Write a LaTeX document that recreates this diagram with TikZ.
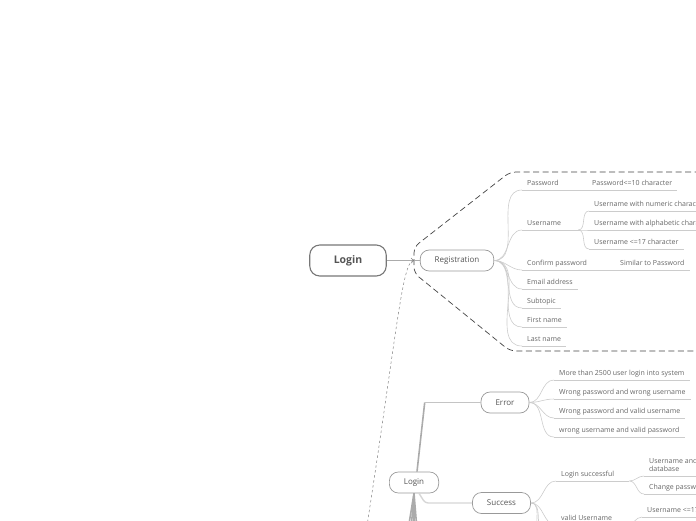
\documentclass[tikz,border=0pt]{standalone}
\usepackage{fontspec}
\setmainfont{Open Sans}
\usetikzlibrary{arrows.meta,calc}
\definecolor{topicgray}{HTML}{777777}
\definecolor{textgray}{HTML}{555555}
\definecolor{leafgray}{HTML}{666666}
\definecolor{linegray}{HTML}{CCCCCC}
\definecolor{trunkgray}{HTML}{ABABAB}
\definecolor{boundgray}{HTML}{444444}
\tikzset{
  rootbox/.style={draw=topicgray,line width=1.1pt,fill=white,rounded corners=10pt,minimum height=31pt,inner xsep=24pt,font=\fontsize{10.5}{12}\selectfont\bfseries,text=textgray},
  topicbox/.style={draw=topicgray!75,line width=0.7pt,fill=white,rounded corners=9pt,minimum height=21pt,inner xsep=14.5pt,font=\fontsize{8}{10}\selectfont,text=textgray},
  leaf/.style={anchor=south west,inner xsep=5pt,inner ysep=2.5pt,text height=5pt,text depth=1.5pt,font=\fontsize{7}{8}\selectfont,text=leafgray},
  branch/.style={draw=linegray,line width=0.6pt},
  twig/.style={branch,out=0,in=180},
  trunk/.style={draw=trunkgray,line width=1.6pt},
  boundary/.style={draw=boundgray,line width=0.7pt,dash pattern=on 6pt off 3.5pt,rounded corners=6pt},
  relation/.style={draw=gray,line width=0.5pt,dash pattern=on 2.5pt off 2.5pt,-{Straight Barb[length=2.5pt,width=5pt]}}
}
\begin{document}
\begin{tikzpicture}[x=1pt,y=-1pt]
  \useasboundingbox (0,0) rectangle (696,520);
  \clip (0,0) rectangle (696,520);
  \draw[boundary] (710,172) -- (510,172) -- (414,247) -- (414,273) -- (510,351) -- (710,351);
  \node[rootbox] (root) at (348,260.5) {Login};
  \node[topicbox] (reg) at (457,260.5) {Registration};
  \draw[trunkgray,line width=1.3pt] (root) -- (reg);
  \coordinate (relfrom) at (366,532);
  \coordinate (relto) at (414,260.5);
  \draw[relation] (relfrom) .. controls (396,340) and (402,261) .. (relto);
  % registration fields
  \node[leaf] (pw) at (522,190) {Password};
  \node[leaf] (pwa) at (587,190) {Password<=10 character};
  \node[leaf] (un) at (522,230) {Username};
  \node[leaf] (una) at (589,211) {Username with numeric character};
  \node[leaf] (unb) at (589,230) {Username with alphabetic character};
  \node[leaf] (unc) at (589,249) {Username <=17 character};
  \node[leaf] (cp) at (522,270) {Confirm password};
  \node[leaf] (cpa) at (615,270) {Similar to Password};
  \node[leaf] (em) at (522,289) {Email address};
  \node[leaf] (st) at (522,308) {Subtopic};
  \node[leaf] (fn) at (522,327) {First name};
  \node[leaf] (ln) at (522,346) {Last name};
  \foreach \n in {pw,un,cp,em,st,fn,ln}
    \draw[twig] (reg.east) to (\n.south west);
  \draw[branch] (pw.south east) -- (pwa.south west);
  \draw[branch] (cp.south east) -- (cpa.south west);
  \draw[branch] (un.south east) -- ++(12,0) coordinate (unj);
  \foreach \n in {una,unb,unc}
    \draw[twig] (unj) to (\n.south west);
  \foreach \n in {pw,pwa,un,una,unb,unc,cp,cpa,em,st,fn,ln}
    \draw[branch] (\n.south west) -- (\n.south east);
  % login outcomes
  \node[topicbox] (lg) at (414,482.5) {Login};
  \node[topicbox] (er) at (505,402.5) {Error};
  \node[topicbox] (sc) at (501.5,503) {Success};
  \coordinate (erk) at ($(er.west)+(-56,0)$);
  \draw[trunk] ([xshift=3pt]lg.north) -- (erk);
  \draw[branch,line width=1pt,draw=trunkgray!70] (erk) -- (er.west);
  \draw[line width=1.4pt,draw=linegray!80,rounded corners=3pt] ([xshift=5pt]lg.south) -- ([xshift=-47pt]sc.west) -- (sc.west);
  \coordinate (lgd1) at (408,530);
  \coordinate (lgd2) at (411,530);
  \coordinate (lgd3) at (414,530);
  \coordinate (lgd4) at (417,530);
  \foreach \n in {1,...,4}
    \draw[trunk] (lg.south) -- (lgd\n);
  \node[leaf] (era) at (554,380) {More than 2500 user login into system};
  \node[leaf] (erb) at (554,399) {Wrong password and wrong username};
  \node[leaf] (erc) at (554,418) {Wrong password and valid username};
  \node[leaf] (erd) at (554,437) {wrong username and valid password};
  \foreach \n in {era,erb,erc,erd}
    \draw[twig] (er.east) to (\n.south west);
  \node[leaf] (ls) at (556,481) {Login successful};
  \node[leaf,align=left,text height=,text depth=,inner ysep=4pt] (lsa) at (644,476) {Username and password match with\\database};
  \node[leaf] (lsb) at (644,494) {Change password};
  \node[leaf] (vu) at (556,525) {valid Username};
  \node[leaf] (vua) at (642,517) {Username <=17 character};
  \coordinate (scd1) at (546,535);
  \coordinate (scd2) at (543,535);
  \draw[twig] (sc.east) to (ls.south west);
  \draw[twig] (sc.east) to (vu.south west);
  \foreach \n in {1,2}
    \draw[twig] (sc.east) to (scd\n);
  \draw[branch] (ls.south east) -- ++(10,0) coordinate (lsj);
  \draw[twig] (lsj) to (lsa.south west);
  \draw[twig] (lsj) to (lsb.south west);
  \draw[branch] (vu.south east) -- ++(10,0) coordinate (vuj);
  \draw[twig] (vuj) to (vua.south west);
  \foreach \n in {era,erb,erc,erd,ls,lsa,lsb,vu,vua}
    \draw[branch] (\n.south west) -- (\n.south east);
\end{tikzpicture}
\end{document}
